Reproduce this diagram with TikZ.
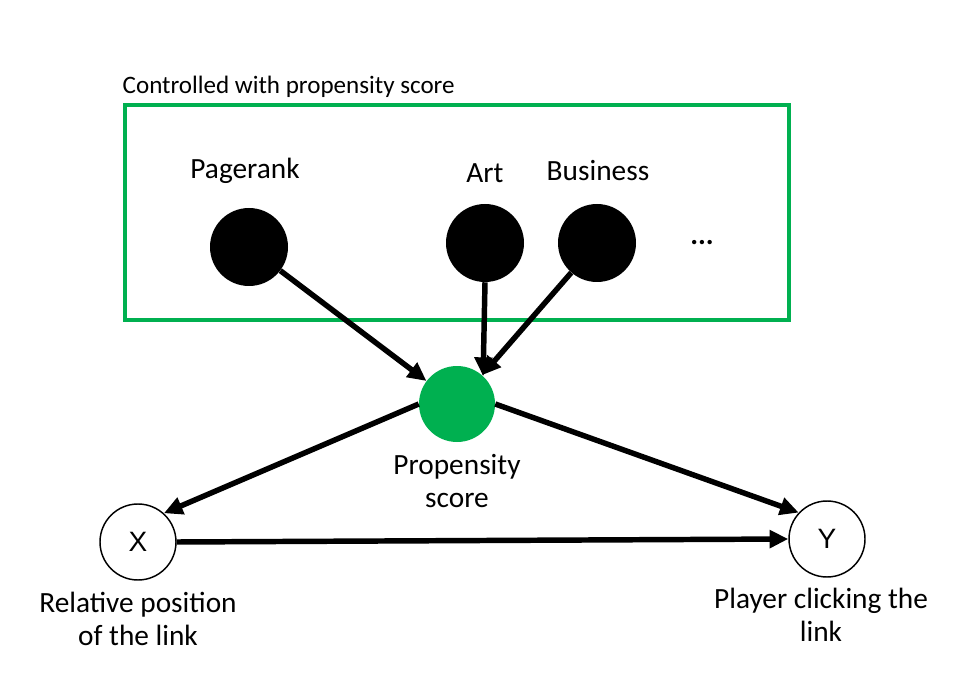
\documentclass[tikz,border=0pt]{standalone}
\usepackage{fontspec}
\setmainfont{Carlito}
\newfontfamily\varfont{Liberation Sans}
\usetikzlibrary{arrows.meta, positioning}
\definecolor{psgreen}{RGB}{0,176,80}

\begin{document}
\begin{tikzpicture}[x=0.75pt, y=-0.75pt, >={Triangle[length=14pt, width=13pt]},
    font=\fontsize{22}{25}\selectfont,
    covar/.style={circle, fill=black, minimum size=58.5pt, inner sep=0pt},
    score/.style={circle, fill=psgreen, minimum size=57pt, inner sep=0pt},
    var/.style={circle, draw=black, line width=1.1pt, fill=white, minimum size=57pt, inner sep=0pt, font=\varfont\fontsize{21}{24}\selectfont},
    lbl/.style={align=center, font=\fontsize{22}{25}\selectfont},
    edge/.style={->, line width=4.1pt}]
    \useasboundingbox (0,0) rectangle (970,698);

    % controlled covariates
    \draw[psgreen, line width=2.4pt] (125,105) rectangle (789,320);
    \node[anchor=west, font=\fontsize{18.8}{22}\selectfont] (ctitle) at (118,87) {Controlled with propensity score};

    \node[covar] (pr)  at (249,247) {};
    \node[covar] (art) at (485,243) {};
    \node[covar] (bus) at (597,243) {};
    \node (dots) at (702,243) {\textbf{...}};
    \node (prl)  at (245,171) {Pagerank};
    \node (artl) at (485,173) {Art};
    \node (busl) at (598,171) {Business};

    % propensity score and treatment / outcome
    \node[score] (ps) at (457,404) {};
    \node[lbl] (psl) at (457,481) {Propensity\\score};
    \node[var] (x) at (138,542) {X};
    \node[var] (y) at (827,539) {Y};
    \node[lbl] (xl) at (138,619) {Relative position\\of the link};
    \node[lbl] (yl) at (821,615) {Player clicking the\\link};

    \draw[edge] (pr) -- (ps);
    \draw[edge] (art.south) -- (ps.47);
    \draw[edge] (bus) -- (ps);
    \draw[edge] (ps.west) -- (x.48);
    \draw[edge] (ps.east) -- (y.137);
    \draw[edge] (x.east) -- (y.west);
\end{tikzpicture}
\end{document}
